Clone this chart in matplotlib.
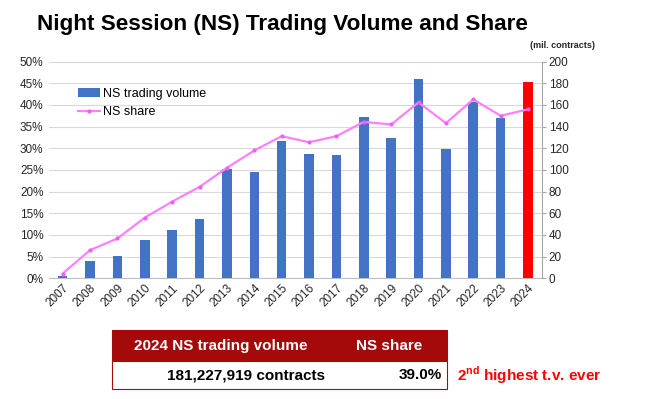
import matplotlib
matplotlib.use("Agg")
import matplotlib.pyplot as plt
import numpy as np
from matplotlib.patches import Rectangle

plt.rcParams["font.family"] = ["Liberation Sans", "DejaVu Sans"]

# ── Data ──────────────────────────────────────────────────────────────────────
years = [str(y) for y in range(2007, 2025)]
volume = [2, 15.7, 20.3, 35.4, 44.3, 55.1, 100.9, 98.5, 127.1, 115.1,
          114.2, 148.9, 129.2, 183.7, 119.7, 163, 148, 181.2]   # mil. contracts
share = [1.1, 6.5, 9.2, 14.0, 17.7, 21.1, 25.5, 29.5, 32.8, 31.4,
         32.8, 36.1, 35.5, 40.6, 35.8, 41.3, 37.5, 39.0]        # %
pct_ticks = list(range(0, 55, 5))
vol_ticks = list(range(0, 220, 20))

table_header = ["2024 NS trading volume", "NS share"]
table_row = ["181,227,919 contracts", "39.0%"]

BLUE = "#4472C4"
RED = "#FF0000"
PINK = "#FF80FF"
DARKRED = "#A50A0A"

fig = plt.figure(figsize=(6.5, 3.99), dpi=100)
fig.patch.set_facecolor("white")

ax = fig.add_axes([0.0754, 0.3025, 0.758, 0.543])
ax2 = ax.twinx()

x = np.arange(len(years))
bar_colors = [BLUE] * (len(years) - 1) + [RED]
bars = ax2.bar(x, volume, width=0.35, color=bar_colors, zorder=2,
               label="NS trading volume")
ax2.set_ylim(0, 200)
ax2.set_yticks(vol_ticks)

ax.set_ylim(0, 50)
ax.set_yticks(pct_ticks)
ax.set_yticklabels([f"{t}%" for t in pct_ticks])
ax.set_xlim(-0.5, len(years) - 0.5)
ax.set_xticks(x)
ax.set_xticklabels(years, rotation=45, ha="right", rotation_mode="anchor")
ax.yaxis.grid(True, color="#D9D9D9", linewidth=0.8)
ax.set_axisbelow(True)

# line on top of bars
line_ax = ax.twinx()
line_ax.set_ylim(0, 50)
line_ax.axis("off")
line, = line_ax.plot(x, share, color=PINK, linewidth=1.6, marker="o",
                     markersize=2, markerfacecolor="#F060F0",
                     markeredgecolor="#F060F0", zorder=3, label="NS share")

for a in (ax, ax2):
    for s in a.spines.values():
        s.set_visible(False)
ax.spines["bottom"].set_visible(True)
ax.spines["bottom"].set_color("#BFBFBF")
ax2.spines["right"].set_visible(True)
ax2.spines["right"].set_color("#A6A6A6")

ax.tick_params(axis="y", length=0, labelsize=8.5, colors="#262626", pad=4)
ax.tick_params(axis="x", length=0, labelsize=8.5, colors="#262626", pad=3)
ax2.tick_params(axis="y", length=3, color="#A6A6A6", labelsize=8.5,
                labelcolor="#262626", pad=2)

leg = ax.legend([bars, line], ["NS trading volume", "NS share"],
                loc="upper left", bbox_to_anchor=(0.035, 0.93), frameon=False,
                fontsize=9, handlelength=1.8, handletextpad=0.2,
                labelspacing=0.5)

fig.text(0.057, 0.925, "Night Session (NS) Trading Volume and Share",
         fontsize=16.2, fontweight="bold", color="black")
fig.text(0.865, 0.886, "(mil. contracts)", fontsize=6.5, fontweight="bold",
         ha="center", va="center", color="#262626")

# ── Summary table ─────────────────────────────────────────────────────────────
W, H = 650, 399


def fx(px):
    return px / W


def fy(py):
    return 1 - py / H


fig.patches.append(Rectangle((fx(112), fy(361)), fx(447) - fx(112),
                             fy(330) - fy(361), transform=fig.transFigure,
                             facecolor=DARKRED, edgecolor=DARKRED, lw=0.8))
fig.patches.append(Rectangle((fx(112), fy(389)), fx(447) - fx(112),
                             fy(361) - fy(389), transform=fig.transFigure,
                             facecolor="white", edgecolor=DARKRED, lw=0.8))
fig.text(fx(221), fy(346), table_header[0], color="white", fontsize=11,
         fontweight="bold", ha="center", va="center")
fig.text(fx(389), fy(346), table_header[1], color="white", fontsize=11,
         fontweight="bold", ha="center", va="center")
fig.text(fx(325), fy(375), table_row[0], color="black", fontsize=11,
         fontweight="bold", ha="right", va="center")
fig.text(fx(442), fy(375), table_row[1], color="black", fontsize=11,
         fontweight="bold", ha="right", va="center")
fig.text(fx(457), fy(375), r"2$^{\mathregular{nd}}$ highest t.v. ever",
         color=RED, fontsize=11, fontweight="bold", ha="left", va="center")

fig.savefig("out.png", dpi=100, facecolor="white")
